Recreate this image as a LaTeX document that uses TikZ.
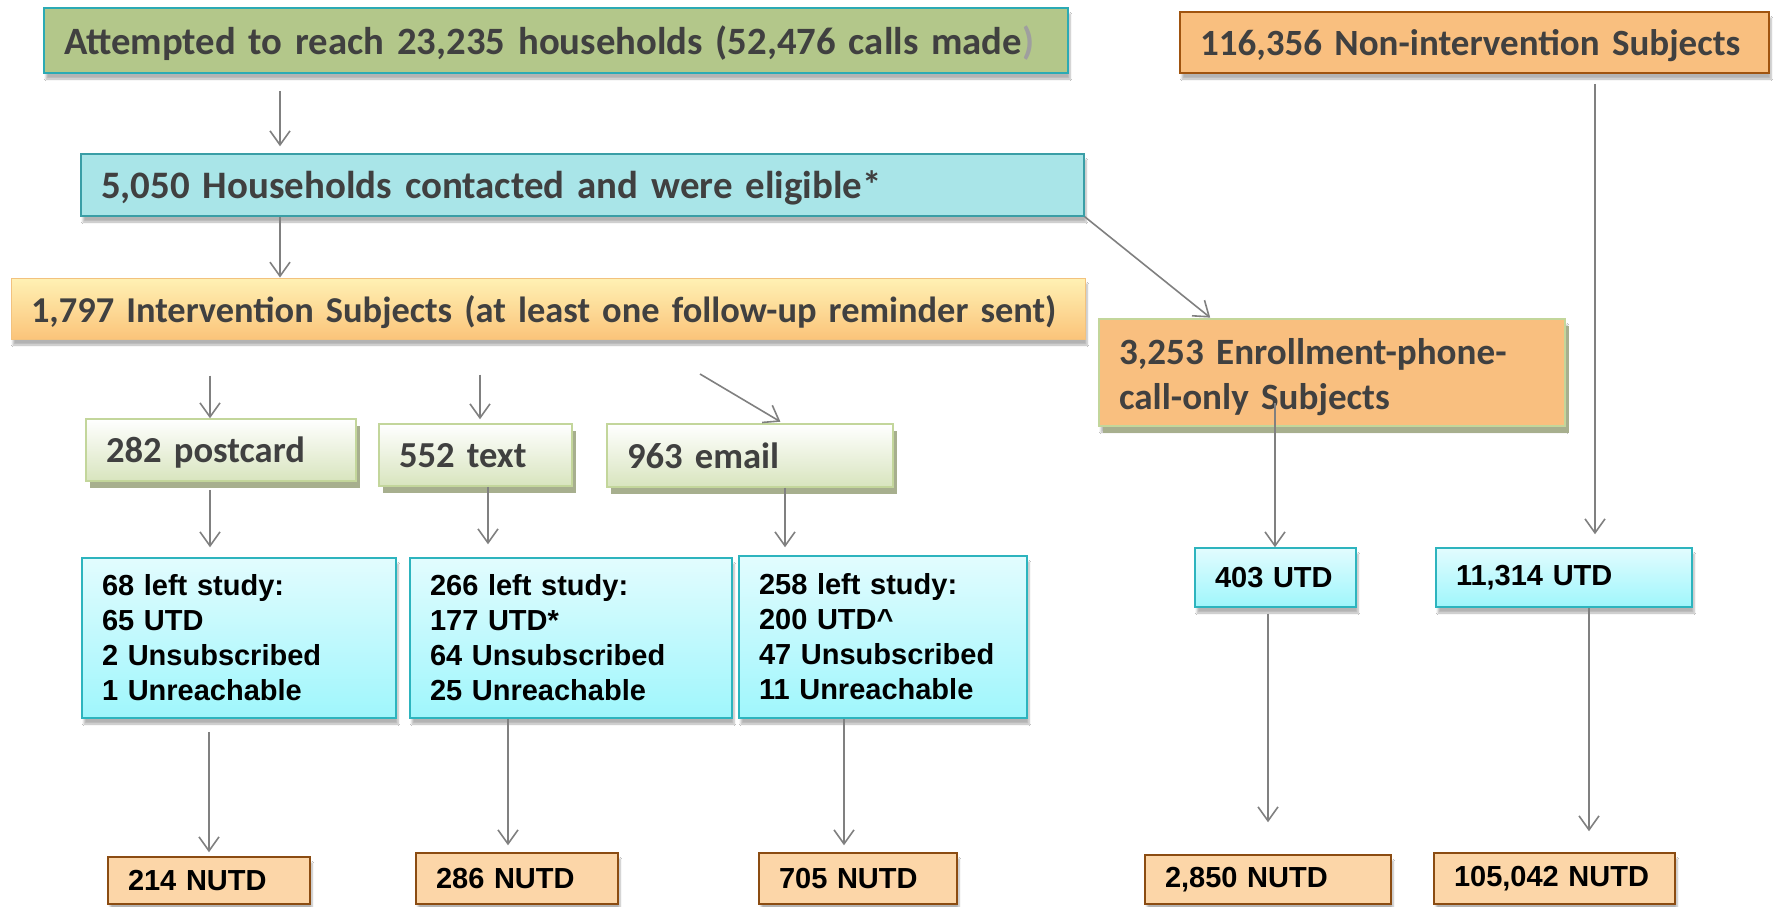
\documentclass[tikz,border=0pt]{standalone}
\usepackage{fontspec}
\setmainfont{Carlito}
\newfontfamily\arialfont{Liberation Sans}
\usepackage{xcolor}
\usetikzlibrary{arrows.meta, positioning, shadows, shadows.blur}

\definecolor{txtgray}{HTML}{404040}
\definecolor{arrgray}{HTML}{808080}
\definecolor{olive}{HTML}{B3C78A}
\definecolor{tealline}{HTML}{2BAAB4}
\definecolor{cyanfill}{HTML}{A9E5E8}
\definecolor{cyanline}{HTML}{3A9EA6}
\definecolor{orangefill}{HTML}{F9BF7F}
\definecolor{brownline}{HTML}{A0540F}
\definecolor{paleline}{HTML}{C3D69B}
\definecolor{shgreen}{HTML}{A7AF8E}
\definecolor{nutdfill}{HTML}{FCD6A8}
\definecolor{nutdline}{HTML}{8B4C12}
\definecolor{aquatop}{HTML}{E2FCFE}
\definecolor{aquabot}{HTML}{9FF6FC}
\definecolor{aqualine}{HTML}{2DB4BE}
\definecolor{intvtop}{HTML}{FFF1B4}
\definecolor{intvmid}{HTML}{FDD28E}
\definecolor{intvbot}{HTML}{FBC47A}
\definecolor{intvline}{HTML}{F2C27E}

\tikzset{
  arr/.style={-{Straight Barb[length=14pt,width=20pt]}, line width=1.6pt, draw=arrgray},
  cal/.style={rectangle, inner xsep=20pt, inner ysep=0pt, align=left,
              text depth=0pt, text=txtgray,
              font=\fontsize{#1}{45}\selectfont\bfseries},
  cal/.default=38,
  ari/.style={rectangle, inner xsep=20pt, inner ysep=0pt, align=left,
              text=black, font=\arialfont\fontsize{29}{35}\selectfont\bfseries},
  soft/.style={blur shadow={shadow xshift=2pt, shadow yshift=-6pt,
               shadow opacity=30, shadow blur steps=6}},
  solid/.style={drop shadow={shadow xshift=4pt, shadow yshift=-7pt,
                fill=shgreen, opacity=1}},
}

\begin{document}
\begin{tikzpicture}[
    x=1pt, y=-1pt,
    head/.style={cal=38.7, soft, draw=tealline, line width=1.5pt, fill=olive},
    elig/.style={cal=38.9, soft, draw=cyanline, line width=1.5pt, fill=cyanfill},
    intvbox/.style={cal=36.4, soft, draw=intvline, line width=1pt,
                    top color=intvtop, middle color=intvmid, bottom color=intvbot},
    subj/.style={cal=#1, draw=brownline, line width=1.5pt, fill=orangefill, soft},
    mode/.style={cal=36.6, solid, draw=paleline, line width=1.5pt,
                 top color=white, bottom color=paleline!65},
    left/.style={ari, soft, draw=aqualine, line width=1.5pt,
                 top color=aquatop, bottom color=aquabot},
    nutd/.style={ari, soft, draw=nutdline, line width=1.5pt, fill=nutdfill},
  ]
  \path[use as bounding box, fill=white] (0,0) rectangle (1773,906);

  % top row
  \node[head, text width=984pt, minimum height=65pt] (att) at (556,40.5)
    {Attempted to reach 23,235 households (52,476 calls made\textcolor{gray!75}{)}};
  \node[subj=37, text width=549pt, minimum height=61pt] (nonint) at (1474.5,42.5)
    {116,356 Non-intervention Subjects};
  \node[elig, text width=963pt, minimum height=62pt] (hh) at (582.5,185)
    {5,050 Households contacted and were eligible*};
  \node[intvbox, text width=1034pt, minimum height=61pt] (intv) at (548,308.5)
    {1,797 Intervention Subjects (at least one follow-up reminder sent)};
  \node[subj=37.1, solid, draw=paleline, text depth=43pt, text width=426pt,
        minimum height=107pt] (enr) at (1332,372.5)
    {3,253 Enrollment-phone-\\call-only Subjects};

  % reminder modes
  \node[mode, text width=230pt, minimum height=62pt] (post) at (221,450) {282 postcard};
  \node[mode, text width=153pt, minimum height=62pt] (txt)  at (475.5,455) {552 text};
  \node[mode, text width=246pt, minimum height=63pt] (eml)  at (750,455.5) {963 email};

  % left study
  \node[left, text width=274pt, minimum height=160pt] (left1) at (239,638)
    {68 left study:\\65 UTD\\2 Unsubscribed\\1 Unreachable};
  \node[left, text width=282pt, minimum height=160pt] (left2) at (571,638)
    {266 left study:\\177 UTD*\\64 Unsubscribed\\25 Unreachable};
  \node[left, text width=248pt, minimum height=162pt] (left3) at (883,637)
    {258 left study:\\200 UTD\textasciicircum\\47 Unsubscribed\\11 Unreachable};
  \node[left, text width=121pt, minimum height=59pt] (u403)   at (1275.5,577.5) {403 UTD};
  \node[left, text width=216pt, minimum height=59pt] (u11314) at (1564,577.5) {11,314 UTD};

  % not up to date
  \node[nutd, text width=162pt, minimum height=47pt] (n214)  at (209,880.5)  {214 NUTD};
  \node[nutd, text width=162pt, minimum height=51pt] (n286)  at (517,878.5)  {286 NUTD};
  \node[nutd, text width=158pt, minimum height=51pt] (n705)  at (858,878.5)  {705 NUTD};
  \node[nutd, text width=206pt, minimum height=49pt] (n2850) at (1268,879.5) {2,850 NUTD};
  \node[nutd, text width=201pt, minimum height=51pt] (n105)  at (1554.5,878.5) {105,042 NUTD};

  \coordinate (eml0) at (700,374);

  \draw[arr, shorten <=17pt, shorten >=7pt] (att.south -| 280,0) -- (hh.north -| 280,0);
  \draw[arr] (hh.south -| 280,0) -- (intv.north -| 280,0);
  \draw[arr, shorten >=1pt] (hh.south east) -- (enr.north -| 1211,0);
  \draw[arr, shorten <=36pt] (intv.south -| 210,0) -- (post.north -| 210,0);
  \draw[arr, shorten <=35pt, shorten >=4pt] (intv.south -| 480,0) -- (txt.north -| 480,0);
  \draw[arr, shorten >=3pt] (eml0) -- (eml.north -| 783,0);
  \draw[arr, shorten <=8pt, shorten >=10pt] (post.south -| 210,0) -- (left1.north -| 210,0);
  \draw[arr, shorten >=13pt] (txt.south -| 488,0) -- (left2.north -| 488,0);
  \draw[arr, shorten >=8pt] (eml.south -| 785,0) -- (left3.north -| 785,0);
  \draw[arr, shorten <=13pt, shorten >=4pt] (left1.south -| 209,0) -- (n214.north -| 209,0);
  \draw[arr, shorten >=7pt] (left2.south -| 508,0) -- (n286.north -| 508,0);
  \draw[arr, shorten >=7pt] (left3.south -| 844,0) -- (n705.north -| 844,0);
  \draw[arr, shorten <=-24pt] (enr.south -| 1275,0) -- (u403.north -| 1275,0);
  \draw[arr, shorten <=10pt, shorten >=13pt] (nonint.south -| 1595,0) -- (u11314.north -| 1595,0);
  \draw[arr, shorten <=6pt, shorten >=32pt] (u403.south -| 1268,0) -- (n2850.north -| 1268,0);
  \draw[arr, shorten >=21pt] (u11314.south -| 1589,0) -- (n105.north -| 1589,0);
\end{tikzpicture}
\end{document}
